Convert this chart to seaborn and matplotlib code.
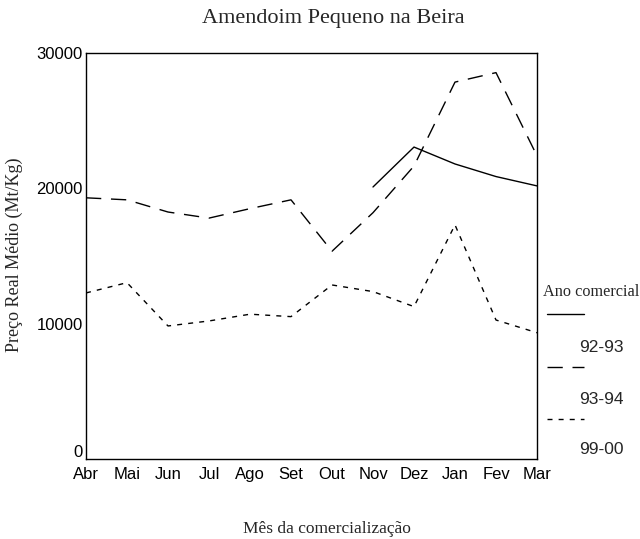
import numpy as np
import pandas as pd
import matplotlib
matplotlib.use("Agg")
import matplotlib.pyplot as plt
import matplotlib.transforms as mtransforms
from matplotlib.lines import Line2D
import seaborn as sns

# dados
meses = ["Abr", "Mai", "Jun", "Jul", "Ago", "Set", "Out", "Nov", "Dez", "Jan", "Fev", "Mar"]
anos = ["92-93", "93-94", "99-00"]
preco_92_93 = [np.nan, np.nan, np.nan, np.nan, np.nan, np.nan, np.nan,
               20100, 23050, 21800, 20870, 20180]
preco_93_94 = [19300, 19150, 18250, 17800, 18500, 19150, 15350,
               18200, 21650, 27850, 28550, 22400]
preco_99_00 = [12270, 13030, 9830, 10200, 10700, 10520, 12860,
               12370, 11260, 17300, 10270, 9330]
y_ticks = [0, 10000, 20000, 30000]

sns.set_theme(style="white")
plt.rcParams["font.family"] = ["Liberation Sans", "DejaVu Sans"]

rows = []
for ano, vals in zip(anos, [preco_92_93, preco_93_94, preco_99_00]):
    for i, (m, v) in enumerate(zip(meses, vals)):
        if not np.isnan(v):
            rows.append({"pos": i, "mes": m, "ano": ano, "preco": v})
df = pd.DataFrame(rows)

dashes = {"92-93": "", "93-94": (11, 7), "99-00": (3.6, 4.4)}

fig = plt.figure(figsize=(6.4, 5.39), dpi=100)
ax = fig.add_axes([86 / 640, 1 - 459 / 539, (537 - 86) / 640, (459 - 53) / 539])

sns.lineplot(data=df, x="pos", y="preco", hue="ano", style="ano",
             palette={a: "black" for a in anos}, dashes=dashes,
             linewidth=1.0, legend=False, ax=ax)

ax.set_xlim(0, len(meses) - 1)
ax.set_ylim(0, 30000)
ax.set_xticks(range(len(meses)))
ax.set_xticklabels(meses)
ax.set_yticks(y_ticks)
ax.set_yticklabels([str(t) for t in y_ticks])
ax.set_xlabel("")
ax.set_ylabel("")
for s in ax.spines.values():
    s.set_visible(True)
    s.set_color("black")
    s.set_linewidth(1.0)
ax.tick_params(axis="both", direction="out", length=2, width=1.5,
               colors="black", labelsize=12)
ax.tick_params(axis="y", pad=0.5)
ax.tick_params(axis="x", pad=4)

# o rótulo "0" aparece um pouco acima no original
lbl0 = ax.get_yticklabels()[0]
lbl0.set_transform(lbl0.get_transform() +
                   mtransforms.ScaledTranslation(0, 6 / 72, fig.dpi_scale_trans))

serif = ["Liberation Serif", "DejaVu Serif"]
fig.text(333 / 640, 1 - 18 / 539, "Amendoim Pequeno na Beira", family=serif,
         fontsize=16, ha="center", va="center")
fig.text(327 / 640, 1 - 529 / 539, "Mês da comercialização", family=serif,
         fontsize=12.5, ha="center", va="center")
fig.text(14 / 640, 1 - 255 / 539, "Preço Real Médio (Mt/Kg)", family=serif,
         fontsize=13, ha="center", va="center", rotation=90)

# legenda manual (linha em cima, rótulo em baixo)
fig.text(543 / 640, 1 - 292 / 539, "Ano comercial", family=serif,
         fontsize=11.7, ha="left", va="center")
leg_y = [314, 367, 419]
lab_y = [347, 400, 450]
for ano, ly, ty in zip(anos, leg_y, lab_y):
    ln = Line2D([547 / 640, 584 / 640], [1 - ly / 539, 1 - ly / 539],
                transform=fig.transFigure, color="black", linewidth=1.0)
    if dashes[ano]:
        ln.set_dashes(dashes[ano])
    fig.add_artist(ln)
    fig.text(579 / 640, 1 - ty / 539, ano, fontsize=12.5, ha="left", va="center")

fig.savefig("out.png", dpi=100)
